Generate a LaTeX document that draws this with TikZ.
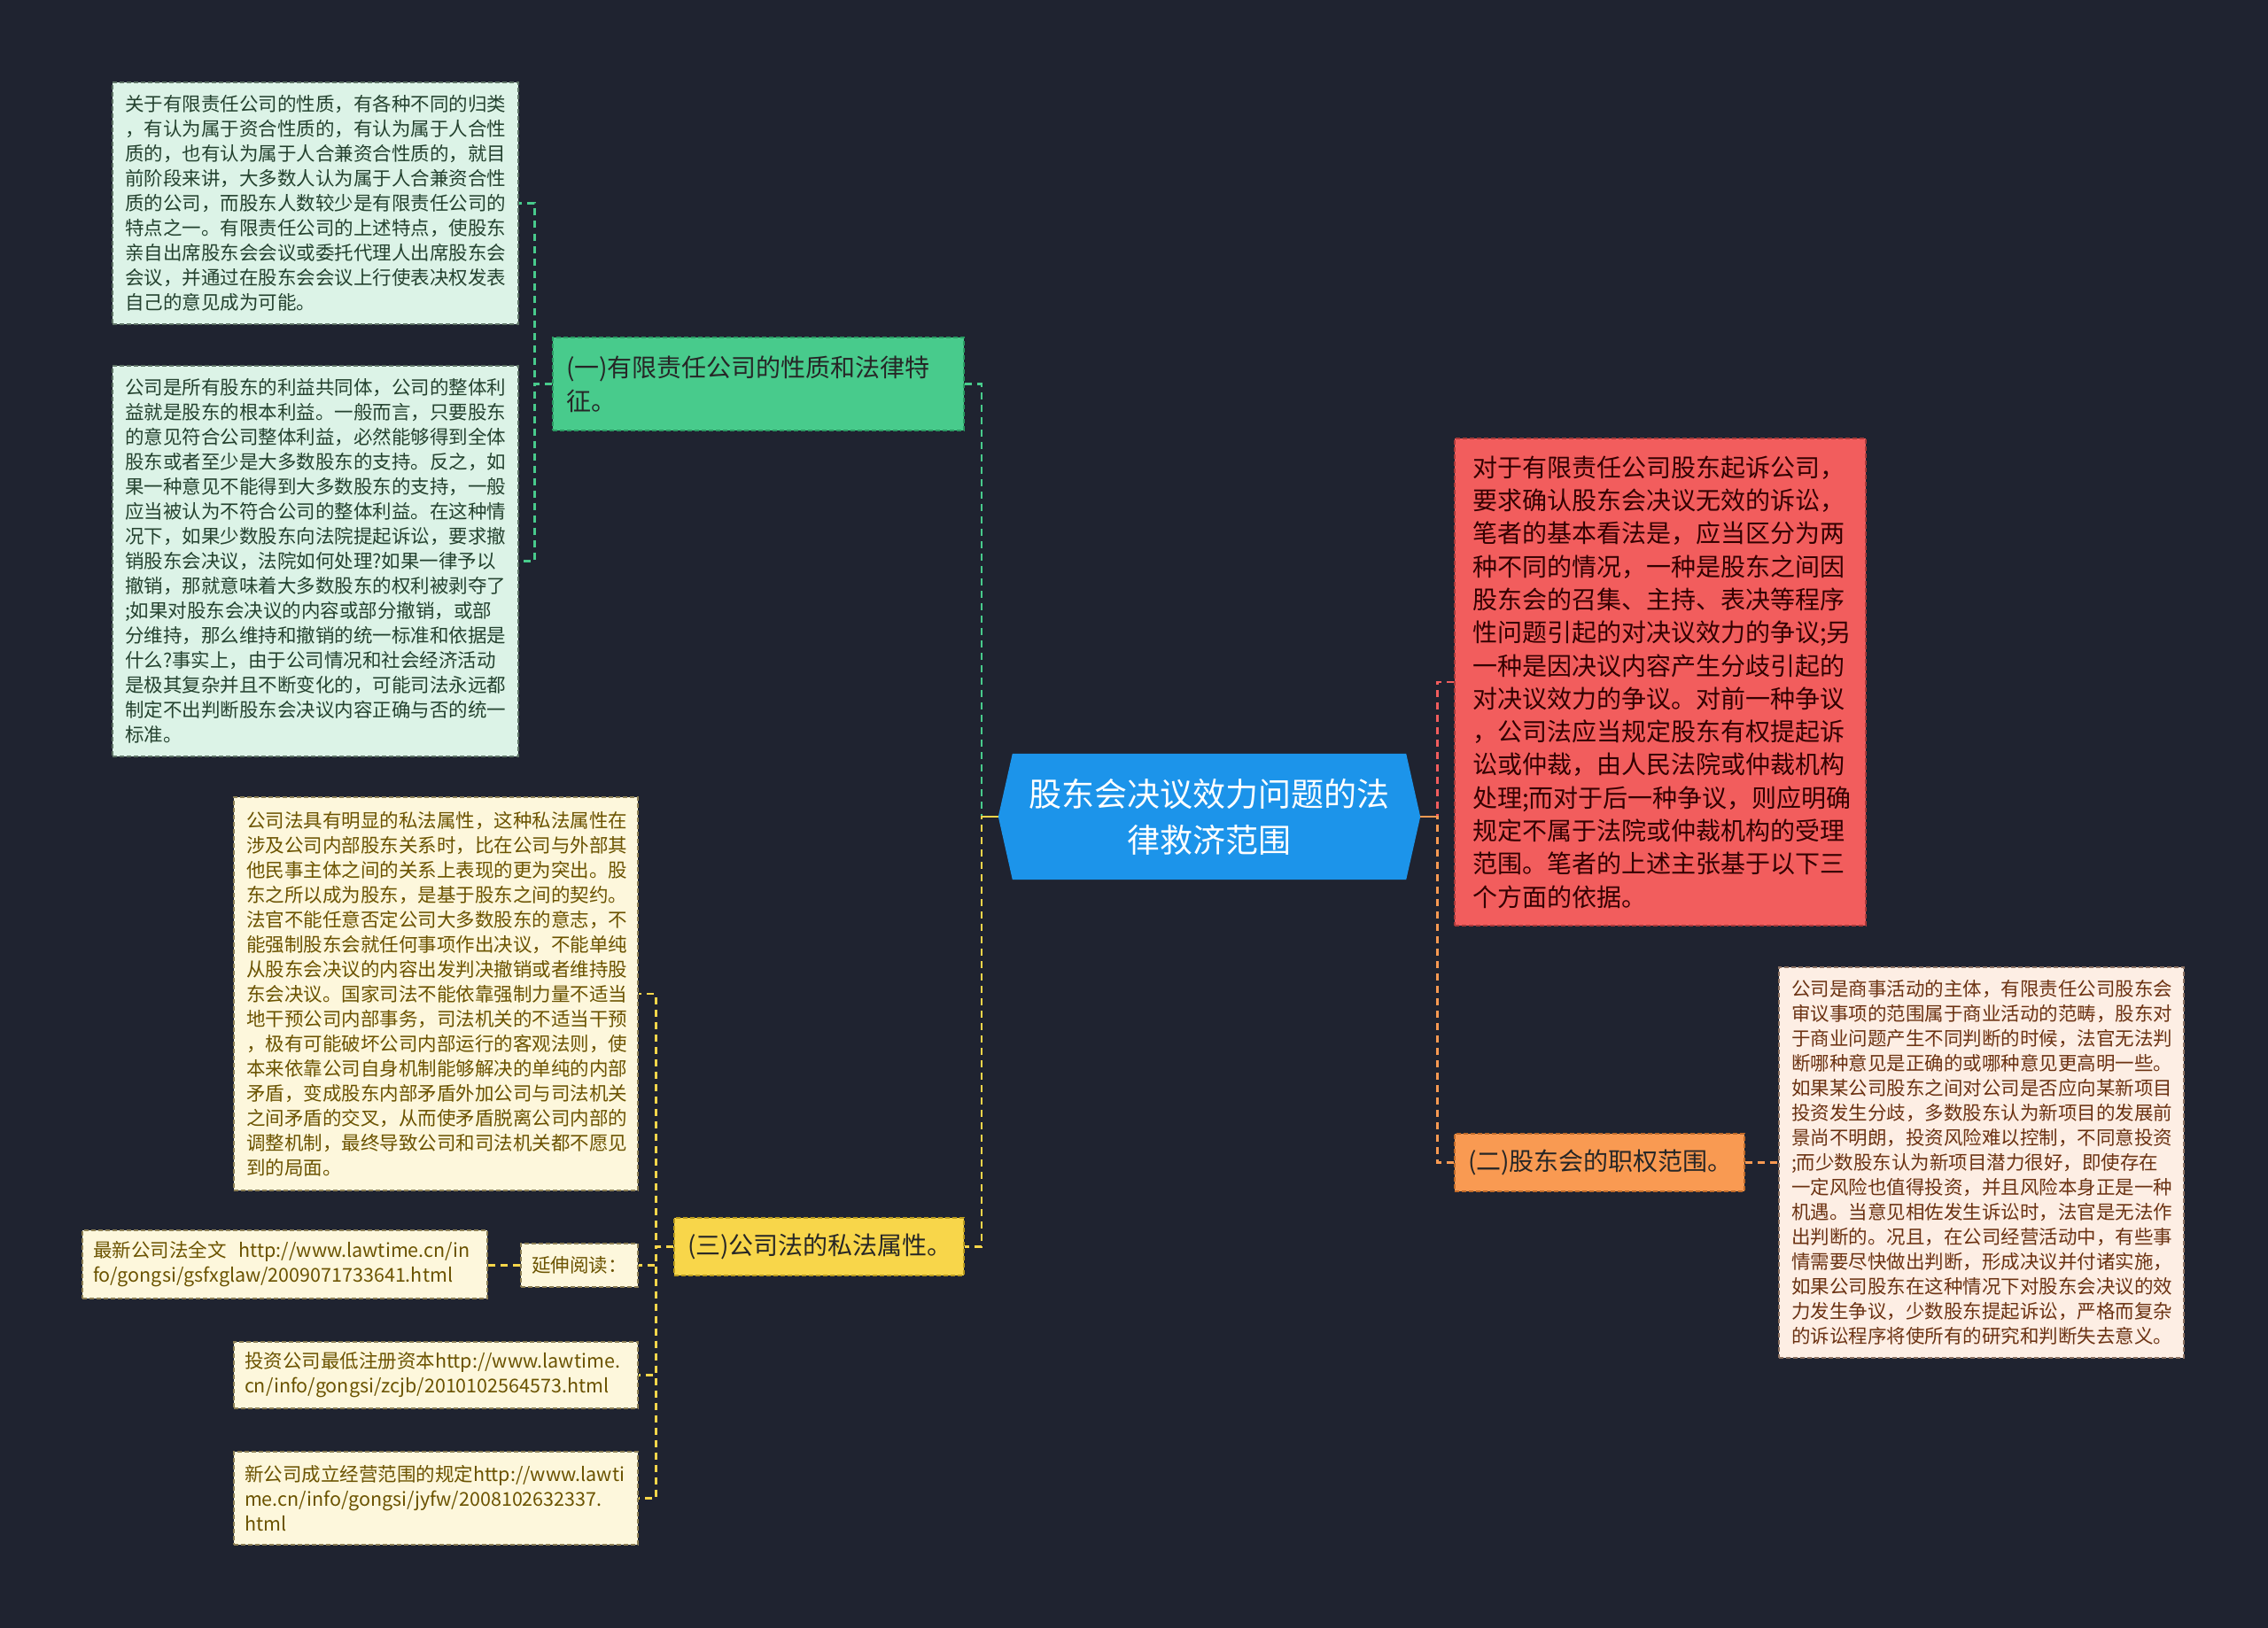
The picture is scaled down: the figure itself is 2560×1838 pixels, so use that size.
\documentclass[tikz,border=0pt]{standalone}
\usepackage{fontspec}
\setmainfont{Noto Sans CJK SC}
\usetikzlibrary{calc}
\definecolor{bgc}{HTML}{1F2330}
\definecolor{rootc}{HTML}{1C94EA}
\definecolor{grn}{HTML}{48CB8C}
\definecolor{grnb}{HTML}{2A9A62}
\definecolor{yel}{HTML}{F8D64A}
\definecolor{yelb}{HTML}{B89A1E}
\definecolor{org}{HTML}{F99A52}
\definecolor{orgb}{HTML}{BF6A2A}
\definecolor{redc}{HTML}{F25D5D}
\definecolor{redb}{HTML}{A83A3A}
\definecolor{gleaf}{HTML}{DCF3E7}
\definecolor{gleaft}{HTML}{24422F}
\definecolor{gleafb}{HTML}{5E7366}
\definecolor{yleaf}{HTML}{FDF7DC}
\definecolor{yleaft}{HTML}{6B5300}
\definecolor{yleafb}{HTML}{8C7F55}
\definecolor{pleaf}{HTML}{FDEEE4}
\definecolor{pleaft}{HTML}{6B3212}
\definecolor{pleafb}{HTML}{8C7262}
\tikzset{
  boxbase/.style={dash pattern=on 5pt off 3pt, line width=1.3pt, align=left, inner ysep=0pt, anchor=center},
  leafg/.style={boxbase, draw=gleafb, fill=gleaf, text=gleaft, inner xsep=14pt, font=\fontsize{21.5}{28}\selectfont},
  leafy/.style={boxbase, draw=yleafb, fill=yleaf, text=yleaft, inner xsep=14pt, font=\fontsize{21.5}{28}\selectfont},
  leafp/.style={boxbase, draw=pleafb, fill=pleaf, text=pleaft, inner xsep=14pt, font=\fontsize{21.5}{28}\selectfont},
  brg/.style={boxbase, draw=grnb, fill=grn, text=black!85, inner xsep=15pt, font=\fontsize{28}{38}\selectfont},
  bry/.style={boxbase, draw=yelb, fill=yel, text=black!85, inner xsep=15pt, font=\fontsize{28}{38}\selectfont},
  bro/.style={boxbase, draw=orgb, fill=org, text=black!85, inner xsep=15pt, font=\fontsize{28}{38}\selectfont},
  redbox/.style={boxbase, draw=redb, fill=redc, text=black!80!red, inner xsep=20pt, font=\fontsize{28}{37.3}\selectfont},
  cg/.style={draw=grn, line width=2.6pt, dash pattern=on 8pt off 6pt},
  cy/.style={draw=yel, line width=2.6pt, dash pattern=on 8pt off 6pt},
  cr/.style={draw=redc, line width=2.6pt, dash pattern=on 8pt off 6pt},
  co/.style={draw=org, line width=2.6pt, dash pattern=on 8pt off 6pt},
}
\begin{document}
\begin{tikzpicture}[x=1pt,y=-1pt]
\fill[bgc] (0,0) rectangle (2560,1838);
\useasboundingbox (0,0) rectangle (2560,1838);

% root
\node[minimum width=476pt, minimum height=142pt, inner sep=0pt] (root) at (1365,922) {};
\fill[rootc] (root.west) -- ([xshift=16pt]root.north west) -- ([xshift=-16pt]root.north east)
   -- (root.east) -- ([xshift=-16pt]root.south east) -- ([xshift=16pt]root.south west) -- cycle;
\node[text=white, align=center, font=\fontsize{37}{52}\selectfont] (rootlabel) at (root.center) {股东会决议效力问题的法\\律救济范围};

% branches
\node[brg, text width=434pt, minimum height=105pt] (b1) at (856,433.5)
  {(一)有限责任公司的性质和法律特\\征。};
\node[bry, text width=297pt, minimum height=65pt] (b3) at (924.5,1407.5)
  {(三)公司法的私法属性。};
\node[bro, text width=297pt, minimum height=65pt] (b2) at (1805.5,1312.5)
  {(二)股东会的职权范围。};
\node[redbox, text width=424pt, minimum height=550pt] (rd) at (1874,770)
  {对于有限责任公司股东起诉公司，\\
   要求确认股东会决议无效的诉讼，\\
   笔者的基本看法是，应当区分为两\\
   种不同的情况，一种是股东之间因\\
   股东会的召集、主持、表决等程序\\
   性问题引起的对决议效力的争议;另\\
   一种是因决议内容产生分歧引起的\\
   对决议效力的争议。对前一种争议\\
   ，公司法应当规定股东有权提起诉\\
   讼或仲裁，由人民法院或仲裁机构\\
   处理;而对于后一种争议，则应明确\\
   规定不属于法院或仲裁机构的受理\\
   范围。笔者的上述主张基于以下三\\
   个方面的依据。};

% green leaves
\node[leafg, text width=430pt, minimum height=273pt] (g1) at (356,229.5)
  {关于有限责任公司的性质，有各种不同的归类\\
   ，有认为属于资合性质的，有认为属于人合性\\
   质的，也有认为属于人合兼资合性质的，就目\\
   前阶段来讲，大多数人认为属于人合兼资合性\\
   质的公司，而股东人数较少是有限责任公司的\\
   特点之一。有限责任公司的上述特点，使股东\\
   亲自出席股东会会议或委托代理人出席股东会\\
   会议，并通过在股东会会议上行使表决权发表\\
   自己的意见成为可能。};
\node[leafg, text width=430pt, minimum height=441pt] (g2) at (356,633.5)
  {公司是所有股东的利益共同体，公司的整体利\\
   益就是股东的根本利益。一般而言，只要股东\\
   的意见符合公司整体利益，必然能够得到全体\\
   股东或者至少是大多数股东的支持。反之，如\\
   果一种意见不能得到大多数股东的支持，一般\\
   应当被认为不符合公司的整体利益。在这种情\\
   况下，如果少数股东向法院提起诉讼，要求撤\\
   销股东会决议，法院如何处理?如果一律予以\\
   撤销，那就意味着大多数股东的权利被剥夺了\\
   ;如果对股东会决议的内容或部分撤销，或部\\
   分维持，那么维持和撤销的统一标准和依据是\\
   什么?事实上，由于公司情况和社会经济活动\\
   是极其复杂并且不断变化的，可能司法永远都\\
   制定不出判断股东会决议内容正确与否的统一\\
   标准。};

% yellow leaves
\node[leafy, text width=428pt, minimum height=444pt] (y1) at (492,1122)
  {公司法具有明显的私法属性，这种私法属性在\\
   涉及公司内部股东关系时，比在公司与外部其\\
   他民事主体之间的关系上表现的更为突出。股\\
   东之所以成为股东，是基于股东之间的契约。\\
   法官不能任意否定公司大多数股东的意志，不\\
   能强制股东会就任何事项作出决议，不能单纯\\
   从股东会决议的内容出发判决撤销或者维持股\\
   东会决议。国家司法不能依靠强制力量不适当\\
   地干预公司内部事务，司法机关的不适当干预\\
   ，极有可能破坏公司内部运行的客观法则，使\\
   本来依靠公司自身机制能够解决的单纯的内部\\
   矛盾，变成股东内部矛盾外加公司与司法机关\\
   之间矛盾的交叉，从而使矛盾脱离公司内部的\\
   调整机制，最终导致公司和司法机关都不愿见\\
   到的局面。};
\node[leafy, inner xsep=12pt, text width=108pt, minimum height=49pt] (ext) at (654,1428.5)
  {延伸阅读：};
\node[leafy, inner xsep=12pt, text width=433pt, minimum height=77pt] (l1) at (321.5,1427.5)
  {\mbox{最新公司法全文\ \ http://www.lawtime.cn/in}\\
   \mbox{fo/gongsi/gsfxglaw/2009071733641.html}};
\node[leafy, inner xsep=12pt, text width=432pt, minimum height=75pt] (l2) at (492,1552.5)
  {\mbox{投资公司最低注册资本http://www.lawtime.}\\
   \mbox{cn/info/gongsi/zcjb/2010102564573.html}};
\node[leafy, inner xsep=12pt, text width=432pt, minimum height=105pt] (l3) at (492,1691.5)
  {\mbox{新公司成立经营范围的规定http://www.lawti}\\
   \mbox{me.cn/info/gongsi/jyfw/2008102632337.}\\
   html};

% right leaf
\node[leafp, text width=429pt, minimum height=441pt] (p1) at (2236.5,1312.5)
  {公司是商事活动的主体，有限责任公司股东会\\
   审议事项的范围属于商业活动的范畴，股东对\\
   于商业问题产生不同判断的时候，法官无法判\\
   断哪种意见是正确的或哪种意见更高明一些。\\
   如果某公司股东之间对公司是否应向某新项目\\
   投资发生分歧，多数股东认为新项目的发展前\\
   景尚不明朗，投资风险难以控制，不同意投资\\
   ;而少数股东认为新项目潜力很好，即使存在\\
   一定风险也值得投资，并且风险本身正是一种\\
   机遇。当意见相佐发生诉讼时，法官是无法作\\
   出判断的。况且，在公司经营活动中，有些事\\
   情需要尽快做出判断，形成决议并付诸实施，\\
   如果公司股东在这种情况下对股东会决议的效\\
   力发生争议，少数股东提起诉讼，严格而复杂\\
   的诉讼程序将使所有的研究和判断失去意义。};

% connectors
\draw[cg] (root.west) -- ++(-19,0) |- (b1.east);
\draw[cy] (root.west) -- ++(-19,0) |- (b3.east);
\draw[yel, line width=2.6pt] (root.west) -- ++(-19,0);
\draw[cr] (root.east) -- ++(19,0) |- (rd.west);
\draw[co] (root.east) -- ++(19,0) |- (b2.west);
\draw[org, line width=2.6pt] (root.east) -- ++(19,0);

\draw[cg] (b1.west) -- ++(-20,0) |- (g1.east);
\draw[cg] (b1.west) -- ++(-20,0) |- (g2.east);

\draw[cy] (b3.west) -- ++(-20,0) |- (y1.east);
\draw[cy] (b3.west) -- ++(-20,0) |- (ext.east);
\draw[cy] (b3.west) -- ++(-20,0) |- (l2.east);
\draw[cy] (b3.west) -- ++(-20,0) |- (l3.east);
\draw[cy] (ext.west) -- (ext.west -| l1.east);

\draw[co] (b2.east) -- (p1.west);
\end{tikzpicture}
\end{document}
